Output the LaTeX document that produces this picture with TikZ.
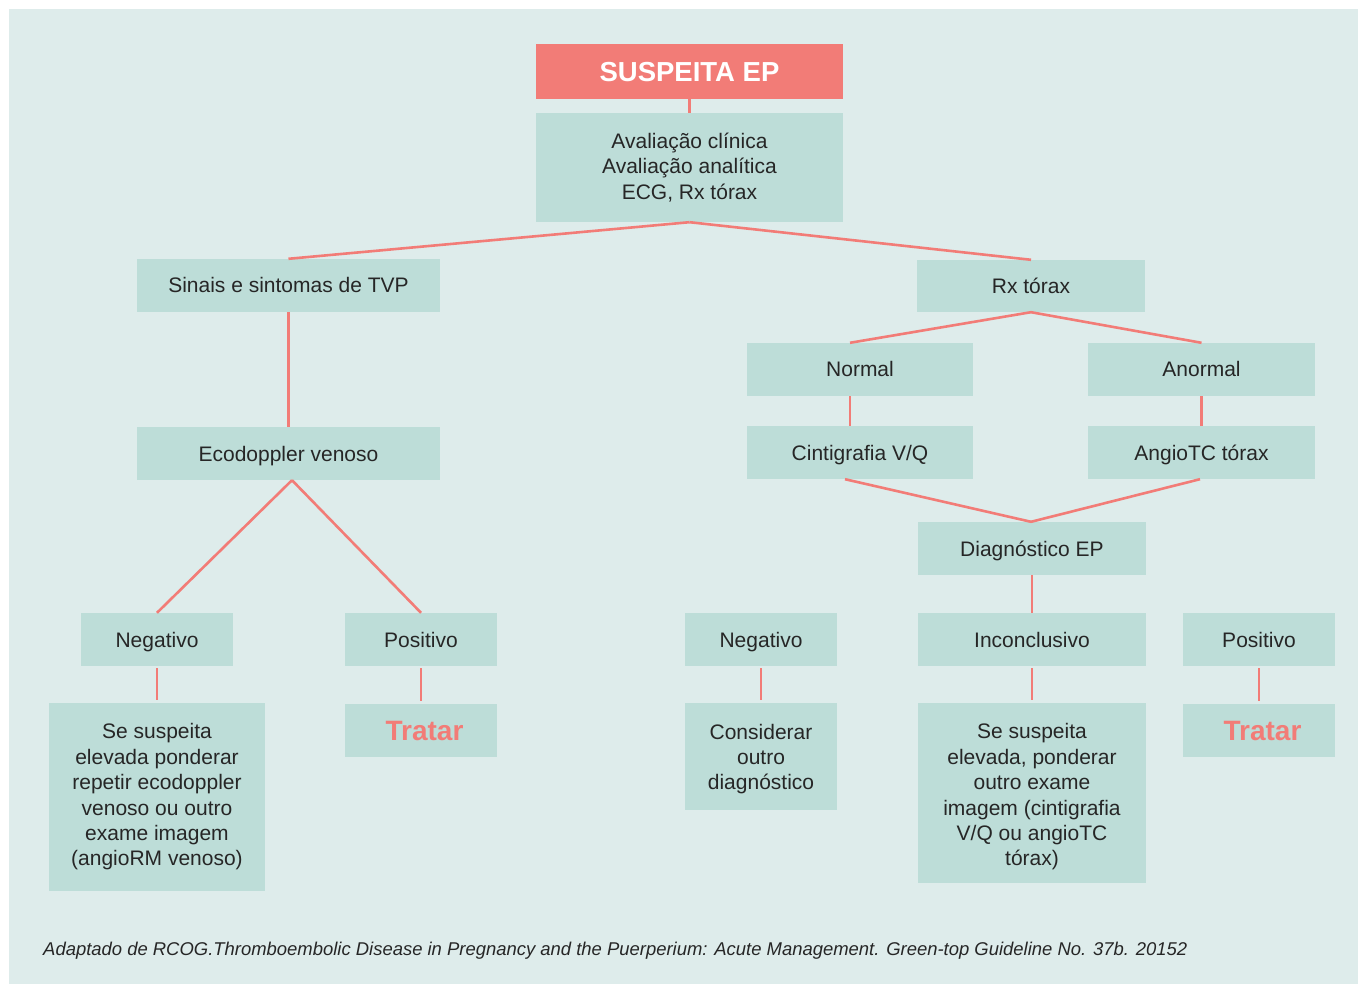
\documentclass[tikz,border=0pt]{standalone}
\usepackage{fontspec}
\usepackage{graphicx}
\setmainfont{Liberation Sans}
\definecolor{panel}{HTML}{DEECEB}
\definecolor{boxc}{HTML}{BDDDD8}
\definecolor{redc}{HTML}{F27C77}
\definecolor{ink}{HTML}{262626}
\tikzset{
  box/.style={fill=boxc, inner sep=0pt, align=center, text=ink,
    font=\fontsize{21}{25.4}\selectfont},
  % single-line boxes: centre the capitals in the box
  oneline/.style={box, text height=15pt, text depth=0pt},
  % text laid over an empty box
  boxtext/.style={inner sep=0pt, align=center, text=ink,
    font=\fontsize{21}{25.4}\selectfont},
  link/.style={draw=redc, line width=2.6pt},
  treat/.style={fill=boxc, inner sep=0pt, text=redc, text height=20pt, text depth=0pt,
    font=\fontsize{28}{30}\selectfont\bfseries},
}
\begin{document}
\begin{tikzpicture}[x=1pt,y=-1pt]
  \useasboundingbox (0,0) rectangle (1358,984);
  \fill[panel] (9,9) rectangle (1358,984);

  % top of the chart
  \node[fill=redc, inner sep=0pt, minimum width=307, minimum height=55,
        text height=19.5pt, text depth=0pt,
        text=white, font=\fontsize{27.5}{30}\selectfont\bfseries]
        (susp) at (689.5,71.5) {SUSPEITA EP};
  \node[box, minimum width=307, minimum height=109] (aval) at (689.5,167.5)
        {Avaliação clínica\\Avaliação analítica\\ECG, Rx tórax};

  % left branch: deep vein thrombosis
  \node[oneline, minimum width=303, minimum height=53] (tvp) at (288.5,285.5)
        {Sinais e sintomas de TVP};
  \node[oneline, minimum width=303, minimum height=53] (eco) at (288.5,453.5)
        {Ecodoppler venoso};
  \node[oneline, minimum width=152, minimum height=53] (negl) at (157,639.5) {Negativo};
  \node[oneline, minimum width=152, minimum height=53] (posl) at (421,639.5) {Positivo};
  \node[box, minimum width=216, minimum height=188] (suspl) at (157,797)
        {Se suspeita\\elevada ponderar\\repetir ecodoppler\\venoso ou outro\\exame imagem\\(angioRM venoso)};
  \node[treat, minimum width=152, minimum height=53] (tratl) at (421,730.5) {};
  \node[treat, fill=none] (tratltxt) at (424.5,730.5) {Tratar};

  % right branch: chest X-ray
  \node[oneline, minimum width=228, minimum height=52] (rx) at (1031,286) {Rx tórax};
  \node[oneline, minimum width=226, minimum height=53] (normal) at (860,369.5) {Normal};
  \node[oneline, minimum width=227, minimum height=53] (anormal) at (1201.5,369.5) {Anormal};
  \node[oneline, minimum width=226, minimum height=53] (cinti) at (860,452.5) {Cintigrafia V/Q};
  \node[oneline, minimum width=227, minimum height=53] (angio) at (1201.5,452.5) {AngioTC tórax};
  \node[oneline, minimum width=228, minimum height=53] (diag) at (1032,548.5) {Diagnóstico EP};
  \node[oneline, minimum width=152, minimum height=53] (negr) at (761,639.5) {Negativo};
  \node[oneline, minimum width=228, minimum height=53] (inc) at (1032,639.5) {Inconclusivo};
  \node[oneline, minimum width=152, minimum height=53] (posr) at (1259,639.5) {Positivo};
  \node[box, minimum width=152, minimum height=107] (outro) at (761,756.5) {};
  \node[boxtext] (outrotxt) at (761,759) {Considerar\\outro\\diagnóstico};
  \node[box, minimum width=228, minimum height=180] (suspr) at (1032,793) {};
  \node[boxtext] (susprtxt) at (1032,797)
        {Se suspeita\\elevada, ponderar\\outro exame\\imagem (cintigrafia\\V/Q ou angioTC\\tórax)};
  \node[treat, minimum width=152, minimum height=53] (tratr) at (1259,730.5) {};
  \node[treat, fill=none] (tratrtxt) at (1262.5,730.5) {Tratar};

  % connectors
  \draw[link] (susp.south) -- (aval.north);
  \draw[link] (aval.south) -- (tvp.north);
  \draw[link] (aval.south) -- (rx.north);
  \draw[link] (tvp.south) -- (eco.north);
  \draw[link] ([xshift=3.5pt]eco.south) -- (negl.north);
  \draw[link] ([xshift=3.5pt]eco.south) -- (posl.north);
  \draw[link, shorten <=2pt, shorten >=3pt] (negl.south) -- (suspl.north);
  \draw[link, shorten <=2pt, shorten >=3pt] (posl.south) -- (tratl.north);
  \draw[link] (rx.south) -- ([xshift=-10pt]normal.north);
  \draw[link] (rx.south) -- (anormal.north);
  \draw[link] ([xshift=-10pt]normal.south) -- ([xshift=-10pt]cinti.north);
  \draw[link] (anormal.south) -- (angio.north);
  \draw[link] ([xshift=-15pt]cinti.south) -- ([xshift=-1pt]diag.north);
  \draw[link] ([xshift=-1.5pt]angio.south) -- ([xshift=-1pt]diag.north);
  \draw[link] (diag.south) -- (inc.north);
  \draw[link, shorten <=2pt, shorten >=3pt] (negr.south) -- (outro.north);
  \draw[link, shorten <=2pt, shorten >=3pt] (inc.south) -- (suspr.north);
  \draw[link, shorten <=2pt, shorten >=3pt] (posr.south) -- (tratr.north);

  % source note
  \node[anchor=base west, inner sep=0pt, text=ink,
        font=\fontsize{18.5}{22}\selectfont\itshape] (note) at (43,955)
        {\resizebox{1144pt}{\height}{Adaptado de RCOG.Thromboembolic Disease in Pregnancy and the Puerperium: Acute Management. Green-top Guideline No. 37b. 20152}};
\end{tikzpicture}
\end{document}
